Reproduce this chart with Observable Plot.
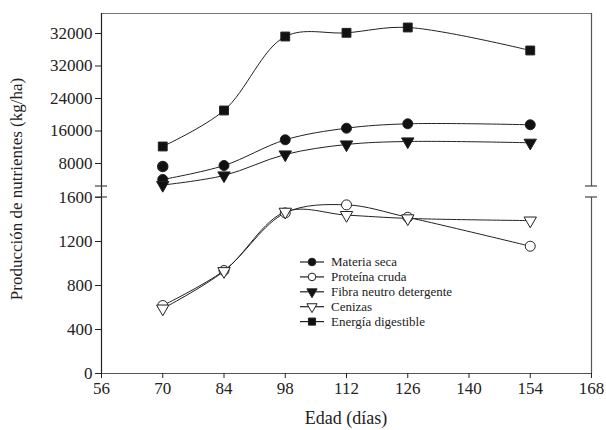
<!DOCTYPE html>
<html><head><meta charset="utf-8">
<script src="https://cdn.jsdelivr.net/npm/d3@7"></script>
<script src="https://cdn.jsdelivr.net/npm/@observablehq/plot@0.6"></script>
<style>
body{margin:0;background:#fff;}
#chart svg, #chart svg text{font-family:"Liberation Serif","DejaVu Serif",serif;}
#chart svg g[aria-label$="tick label"]{font-size:17px;}
</style></head><body><div id="chart"></div>
<script>
// ---- data ----
const edad = [70, 84, 98, 112, 126, 154];
const materiaSeca = [4060, 7500, 13830, 16690, 17770, 17530];
const materiaSecaExtraX = [70];
const materiaSecaExtraY = [7260];
const proteinaCruda = [618, 936, 1460, 1533, 1420, 1157];
const fibraND = [2700, 5050, 10220, 12680, 13420, 13100];
const cenizas = [590, 930, 1470, 1440, 1410, 1390];
const energiaDigestible = [12190, 21050, 39260, 40170, 41480, 35820];
const seriesNames = ["Materia seca", "Proteína cruda", "Fibra neutro detergente", "Cenizas", "Energía digestible"];
const xTicks = [56, 70, 84, 98, 112, 126, 140, 154, 168];
const yTicks = [0, 400, 800, 1200, 1600, 8000, 16000, 24000, 32000, 40000];
const yTickLabels = ["0", "400", "800", "1200", "1600", "8000", "16000", "24000", "32000", "32000"];
// broken axis: lower panel 0–1600, upper panel ~2340–~44900
const yBreakLow = 1600, yBreakHigh = 2338, yTop = 44923;

const seriesValues = [materiaSeca, proteinaCruda, fibraND, cenizas, energiaDigestible];
const symbols = ["circle", "circle", "triangle", "triangle", "square"];
const fills = ["#111", "white", "#111", "white", "#111"];
const rotates = [0, 0, 180, 180, 0];
const radii = [5, 5, 4.6, 4.6, 5];

// piecewise (broken) y: lower segment 176 units, gap 11, upper 173
const brk = d3.scaleLinear().domain([0, yBreakLow, yBreakHigh, yTop]).range([0, 176, 187, 360]);

const rows = [];
seriesNames.forEach((s, i) => edad.forEach((x, j) => rows.push({serie: s, i, x, y: brk(seriesValues[i][j])})));
const extra = materiaSecaExtraX.map((x, j) => ({x, y: brk(materiaSecaExtraY[j])}));
const tickPos = yTicks.map(brk);

const ink = "#222";
const dotMarks = seriesNames.map((s, i) => Plot.dot(rows.filter(d => d.i === i), {
  x: "x", y: "y", symbol: symbols[i], r: radii[i], fill: fills[i], stroke: ink, strokeWidth: 1, rotate: rotates[i]
}));

const plot = Plot.plot({
  width: 606, height: 430,
  marginLeft: 101, marginRight: 15, marginTop: 13, marginBottom: 57,
  style: {fontFamily: '"Liberation Serif", serif', fontSize: "17px", color: ink, background: "white"},
  x: {domain: [56, 168]},
  y: {domain: [0, 360]},
  marks: [
    Plot.ruleY([brk(yTop)], {x1: 56, x2: 168, stroke: "#777", strokeWidth: 1.2}),
    Plot.ruleX([168], {y1: 0, y2: brk(yBreakLow), stroke: "#555", strokeWidth: 1.2}),
    Plot.ruleX([168], {y1: brk(yBreakHigh), y2: brk(yTop), stroke: "#555", strokeWidth: 1.2}),
    Plot.ruleX([56], {y1: 0, y2: brk(yTop), stroke: ink, strokeWidth: 1.2}),
    Plot.ruleY([0], {x1: 56, x2: 168, stroke: "#555", strokeWidth: 1.2}),
    Plot.axisX({ticks: xTicks, tickSize: 5, tickPadding: 3, label: null, fontSize: 17}),
    Plot.axisY({ticks: tickPos, tickFormat: d => yTickLabels[tickPos.indexOf(d)], tickSize: 6, tickPadding: 3, label: null, fontSize: 17}),
    Plot.line(rows, {x: "x", y: "y", z: "serie", curve: "catmull-rom", stroke: ink, strokeWidth: 1}),
    ...dotMarks,
    Plot.dot(extra, {x: "x", y: "y", symbol: "circle", r: 5, fill: "#111", stroke: ink})
  ]
});

const svg = d3.select(plot);
svg.selectAll('g[aria-label$="tick label"]').attr("font-size", 17).style("font-size", "17px");
svg.selectAll('g[aria-label$="tick label"] text').attr("font-size", 17).style("font-size", "17px");
const xs = plot.scale("x"), ys = plot.scale("y");
const X = v => xs.apply(v);
const Y = v => ys.apply(brk(v));
// break marks
[[X(56), Y(yBreakHigh)], [X(56), Y(yBreakLow)], [X(168), Y(yBreakHigh)], [X(168), Y(yBreakLow)]].forEach(([px, py]) => {
  svg.append("line").attr("x1", px - 6).attr("x2", px + 6).attr("y1", py).attr("y2", py)
    .attr("stroke", "#444").attr("stroke-width", 1.2);
});
// axis titles
svg.append("text").attr("x", (X(56) + X(168)) / 2).attr("y", 424).attr("text-anchor", "middle")
  .attr("font-size", 18).attr("fill", ink).text("Edad (días)");
svg.append("text").attr("transform", `translate(22,189) rotate(-90)`).attr("text-anchor", "middle")
  .attr("font-size", 17).attr("fill", ink).text("Producción de nutrientes (kg/ha)");
// legend
const lg = svg.append("g").attr("transform", "translate(300,262)").attr("text-anchor", "start");
const symGen = {circle: d3.symbolCircle, square: d3.symbolSquare, triangle: d3.symbolTriangle};
seriesNames.forEach((s, i) => {
  const g = lg.append("g").attr("transform", `translate(0,${i * 14.9})`);
  g.append("line").attr("x1", 0).attr("x2", 24).attr("stroke", ink).attr("stroke-width", 1.2);
  const rr = i === 4 ? 4 : 3.8;
  g.append("path").attr("d", d3.symbol(symGen[symbols[i]], Math.PI * rr * rr)())
    .attr("transform", `translate(12,0) rotate(${rotates[i]})`)
    .attr("fill", fills[i]).attr("stroke", ink).attr("stroke-width", 1);
  g.append("text").attr("x", 31).attr("dy", "0.32em").attr("text-anchor", "start")
    .attr("font-size", 13).attr("fill", ink).text(s);
});
document.getElementById("chart").appendChild(plot);
</script></body></html>
